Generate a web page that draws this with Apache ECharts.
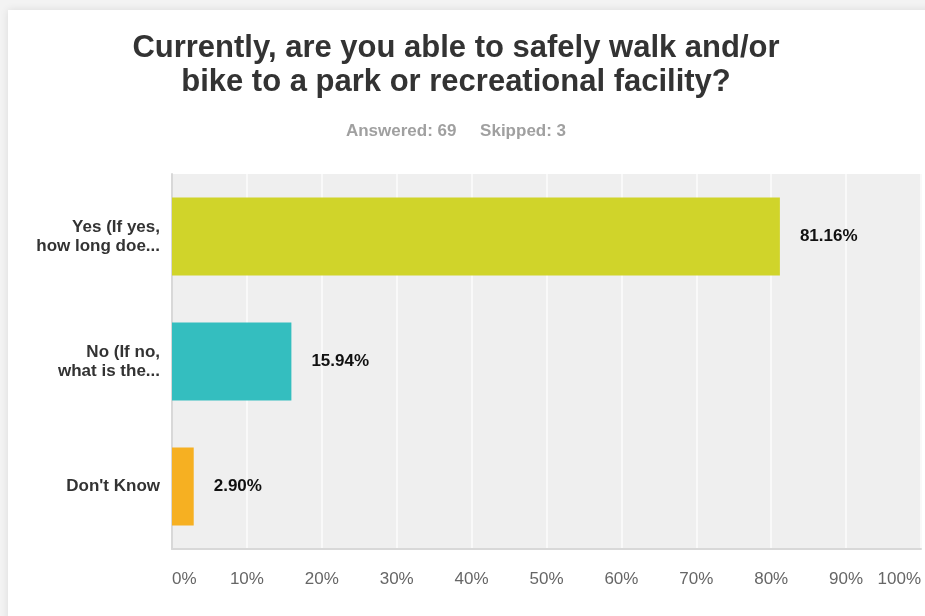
<!DOCTYPE html>
<html>
<head>
<meta charset="utf-8">
<script src="https://cdn.jsdelivr.net/npm/echarts@6/dist/echarts.min.js"></script>
<style>
html,body{margin:0;padding:0;background:#f3f3f3;}
#chart{width:925px;height:616px;}
</style>
</head>
<body>
<div id="chart"></div>
<script>
const titleText = "Currently, are you able to safely walk and/or\nbike to a park or recreational facility?";
const subText = "Answered: 69     Skipped: 3";
const categories = ["Yes (If yes,\nhow long doe...", "No (If no,\nwhat is the...", "Don't Know"];
const values = [81.16, 15.94, 2.90];
const barColors = ["#d0d42a", "#34bebf", "#f6b022"];
const xTickMax = 100;
const xTickStep = 10;

const chart = echarts.init(document.getElementById('chart'), null, {renderer: 'canvas'});
chart.setOption({
  backgroundColor: '#f3f3f3',
  animation: false,
  graphic: [{
    type: 'rect', z: -10, silent: true,
    shape: {x: 8, y: 10, width: 940, height: 640},
    style: {fill: '#ffffff', shadowBlur: 8, shadowColor: 'rgba(0,0,0,0.10)', shadowOffsetX: 0, shadowOffsetY: 0}
  }],
  title: [{
    text: titleText,
    left: 451, top: 26, textAlign: 'center',
    textStyle: {fontFamily: 'Liberation Sans, Arial, sans-serif', fontSize: 31, fontWeight: 'bold', color: '#333333', lineHeight: 34}
  }, {
    text: subText,
    left: 451, top: 118, textAlign: 'center',
    textStyle: {fontFamily: 'Liberation Sans, Arial, sans-serif', fontSize: 17, fontWeight: 'bold', color: '#a0a0a0'}
  }],
  grid: {left: 172, right: 4, top: 174, bottom: 67, containLabel: false, show: true, backgroundColor: '#efefef', borderWidth: 0},
  xAxis: {
    type: 'value', min: 0, max: xTickMax, interval: xTickStep,
    axisLine: {show: true, lineStyle: {color: '#d8d8d8', width: 2}},
    axisTick: {show: false},
    splitLine: {show: true, lineStyle: {color: '#f9f9f9', width: 2}},
    axisLabel: {
      formatter: '{value}%', margin: 22,
      fontFamily: 'Liberation Sans, Arial, sans-serif', fontSize: 17, color: '#666666',
      alignMinLabel: 'left', alignMaxLabel: 'right'
    }
  },
  yAxis: {
    type: 'category', data: categories, inverse: true,
    axisLine: {show: true, lineStyle: {color: '#d8d8d8', width: 2}},
    axisTick: {show: false},
    splitLine: {show: false},
    axisLabel: {
      margin: 12, fontFamily: 'Liberation Sans, Arial, sans-serif', fontSize: 17, fontWeight: 'bold',
      color: '#333333', lineHeight: 19
    }
  },
  series: [{
    type: 'bar',
    data: values.map((v, i) => ({value: v, itemStyle: {color: barColors[i]}})),
    barWidth: 78,
    label: {
      show: true, position: 'right', distance: 20,
      formatter: p => p.value.toFixed(2) + '%',
      fontFamily: 'Liberation Sans, Arial, sans-serif', fontSize: 17, fontWeight: 'bold', color: '#111111'
    }
  }]
});
</script>
</body>
</html>
